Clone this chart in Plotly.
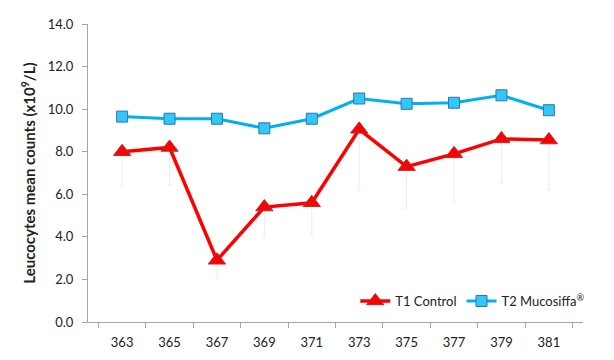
import plotly.graph_objects as go

days = ["363", "365", "367", "369", "371", "373", "375", "377", "379", "381"]
t1_control = [8.0, 8.2, 2.9, 5.4, 5.6, 9.05, 7.3, 7.9, 8.6, 8.55]
t1_err_minus = [1.6, 1.75, 0.85, 1.4, 1.5, 2.85, 1.95, 2.25, 2.1, 2.35]
t2_mucosiffa = [9.65, 9.55, 9.55, 9.1, 9.55, 10.5, 10.25, 10.3, 10.65, 9.95]

fig = go.Figure()

fig.add_trace(go.Scatter(
    x=days, y=t1_control, name="T1 Control", mode="lines+markers",
    line=dict(color="#ff0000", width=3.5),
    marker=dict(symbol="triangle-up", size=15, color="#ff0000",
                line=dict(color="#b03030", width=1)),
    error_y=dict(type="data", symmetric=False, array=[0]*len(t1_err_minus),
                 arrayminus=t1_err_minus, color="#ededed", thickness=1, width=2),
))
fig.add_trace(go.Scatter(
    x=days, y=t2_mucosiffa, name="T2 Mucosiffa<sup>®</sup>", mode="lines+markers",
    line=dict(color="#00b0f0", width=3),
    marker=dict(symbol="square", size=11, color="#2fc8f8",
                line=dict(color="#3a6fa8", width=1)),
))

fig.update_layout(
    width=614, height=360,
    margin=dict(l=80, r=39, t=16, b=46),
    paper_bgcolor="white", plot_bgcolor="white",
    font=dict(family="Lato, Liberation Sans, sans-serif", size=13, color="#222"),
    showlegend=True,
    legend=dict(orientation="h", x=0.54, y=0.02, xanchor="left", yanchor="bottom",
                font=dict(size=13), bgcolor="rgba(0,0,0,0)", itemwidth=30,
                tracegroupgap=0),
    xaxis=dict(type="category", showline=True, linecolor="#a6a6a6", linewidth=1,
               ticks="outside", tickson="boundaries", ticklen=5, tickcolor="#a6a6a6",
               showgrid=False, zeroline=False, tickfont=dict(size=13),
               ticklabelstandoff=8, automargin=False),
    yaxis=dict(range=[0, 14], dtick=2, tickformat=".1f", showline=True,
               linecolor="#a6a6a6", linewidth=1, ticks="outside", ticklen=5,
               tickcolor="#a6a6a6", showgrid=False, zeroline=False,
               tickfont=dict(size=13), automargin=False, ticklabelstandoff=6,
               title=dict(text="<b>Leucocytes mean counts (x10<sup>9</sup>/L)</b>",
                          font=dict(size=15), standoff=8)),
)

fig.write_html("out.html")
